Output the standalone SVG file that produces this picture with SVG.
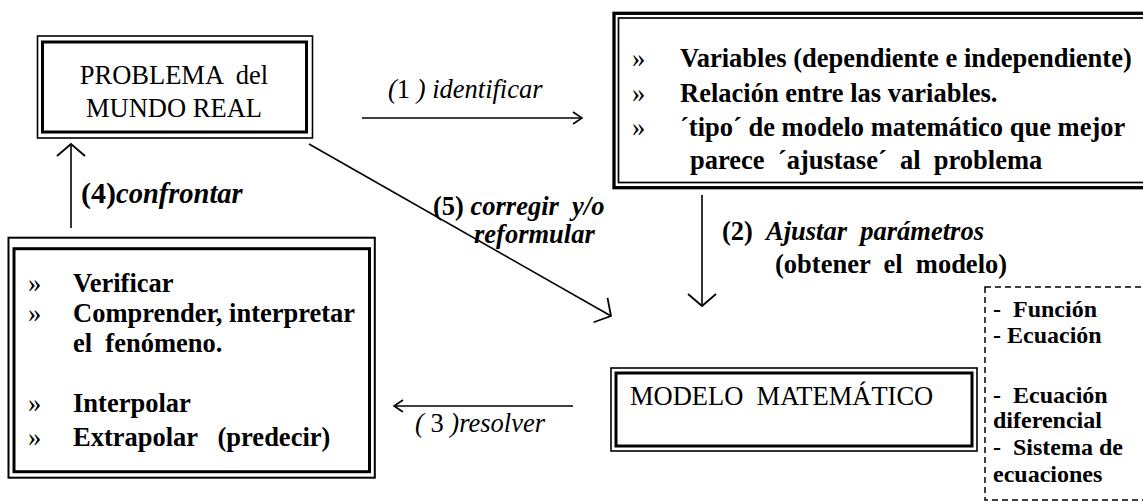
<svg xmlns="http://www.w3.org/2000/svg" width="1143" height="502" viewBox="0 0 1143 502" xml:space="preserve">
<style>
.t{font-family:"Liberation Serif","Times New Roman",serif;font-size:26.5px;fill:#000;white-space:pre}
.b{font-weight:bold}
.i{font-style:italic}
.sm{font-size:24px}
.o1{fill:none;stroke:#000;stroke-width:1.6}
.o3{fill:none;stroke:#000;stroke-width:3}
.ln{fill:none;stroke:#000;stroke-width:1.6}
.dash{fill:none;stroke:#000;stroke-width:1.5;stroke-dasharray:6 4}
</style>
<defs>
<marker id="ahS" markerUnits="userSpaceOnUse" markerWidth="30" markerHeight="30" refX="0" refY="0" viewBox="-15 -15 30 30" orient="auto" overflow="visible">
<path d="M-9,-6 L0,0 L-9,6" fill="none" stroke="#000" stroke-width="1.6"/>
</marker>
<marker id="ahL" markerUnits="userSpaceOnUse" markerWidth="40" markerHeight="40" refX="0" refY="0" viewBox="-20 -20 40 40" orient="auto" overflow="visible">
<path d="M-12,-14 L0,0 L-12,14" fill="none" stroke="#000" stroke-width="1.8"/>
</marker>
</defs>
<rect width="1143" height="502" fill="#fff"/>

<g id="connectors">
<line id="c1" class="ln" x1="362" y1="118" x2="582" y2="118" marker-end="url(#ahS)"/>
<line id="c2" class="ln" x1="702" y1="195" x2="702" y2="306" marker-end="url(#ahL)"/>
<line id="c3" class="ln" x1="573" y1="406" x2="394" y2="406" marker-end="url(#ahS)"/>
<line id="c4" class="ln" x1="71" y1="228" x2="71" y2="144" marker-end="url(#ahL)"/>
<line id="c5" class="ln" x1="309" y1="144" x2="611" y2="316" marker-end="url(#ahL)"/>
<text class="t i" x="388" y="98">(<tspan font-style="normal">1</tspan> ) identificar</text>
<text class="t b" x="722" y="240">(2)</text>
<text class="t b i" x="766" y="240">Ajustar  parámetros</text>
<text class="t b" x="775" y="273">(obtener  el  modelo)</text>
<text class="t i" x="415" y="432">( <tspan font-style="normal">3</tspan> )resolver</text>
<text class="t b" x="81" y="203"><tspan font-size="30px">(4)</tspan><tspan class="i" font-size="28.5px">confrontar</tspan></text>
<text class="t b" x="433" y="215" font-size="27px">(5) <tspan class="i">corregir  y/o</tspan></text>
<text class="t b i" x="474" y="243">reformular</text>
</g>

<g id="problema">
<rect class="o1" x="37.5" y="36" width="275" height="102"/>
<rect class="o3" x="42.5" y="42" width="264" height="90"/>
<text class="t" x="174" y="84" text-anchor="middle" font-size="27px">PROBLEMA  del</text>
<text class="t" x="174" y="117" text-anchor="middle" font-size="27px">MUNDO REAL</text>
</g>

<g id="variables">
<rect x="614" y="13.3" width="540" height="174.4" fill="none" stroke="#000" stroke-width="3.3"/>
<rect x="618.5" y="18" width="540" height="164.5" fill="none" stroke="#000" stroke-width="1.7"/>
<text class="t" x="632" y="67">»</text>
<text class="t b" x="680" y="67">Variables (dependiente e independiente)</text>
<text class="t" x="632" y="102">»</text>
<text class="t b" x="680" y="102">Relación entre las variables.</text>
<text class="t" x="632" y="136">»</text>
<text class="t b" x="680" y="136">´tipo´ de modelo matemático que mejor</text>
<text class="t b" x="690" y="169">parece  ´ajustase´  al  problema</text>
</g>

<g id="interpretar">
<rect x="8.5" y="237.7" width="366.3" height="240" fill="none" stroke="#000" stroke-width="2"/>
<rect class="o3" x="14" y="248.7" width="355.5" height="223"/>
<text class="t" x="28" y="292">»</text>
<text class="t b" x="73" y="292">Verificar</text>
<text class="t" x="28" y="322">»</text>
<text class="t b" x="73" y="322">Comprender, interpretar</text>
<text class="t b" x="73" y="352">el  fenómeno.</text>
<text class="t" x="28" y="412">»</text>
<text class="t b" x="73" y="412">Interpolar</text>
<text class="t" x="28" y="446">»</text>
<text class="t b" x="73" y="446">Extrapolar   (predecir)</text>
</g>

<g id="modelo">
<rect class="o1" x="611" y="368" width="366" height="83"/>
<rect class="o3" x="616" y="373" width="356" height="73"/>
<text class="t" x="630" y="405" font-size="27px">MODELO  MATEMÁTICO</text>
</g>

<g id="tipos">
<rect class="dash" x="985" y="287" width="200" height="213"/>
<text class="t b sm" x="993" y="317">-  Función</text>
<text class="t b sm" x="993" y="343">- Ecuación</text>
<text class="t b sm" x="993" y="403">-  Ecuación</text>
<text class="t b sm" x="993" y="428">diferencial</text>
<text class="t b sm" x="993" y="455">-  Sistema de</text>
<text class="t b sm" x="993" y="482">ecuaciones</text>
</g>
</svg>
